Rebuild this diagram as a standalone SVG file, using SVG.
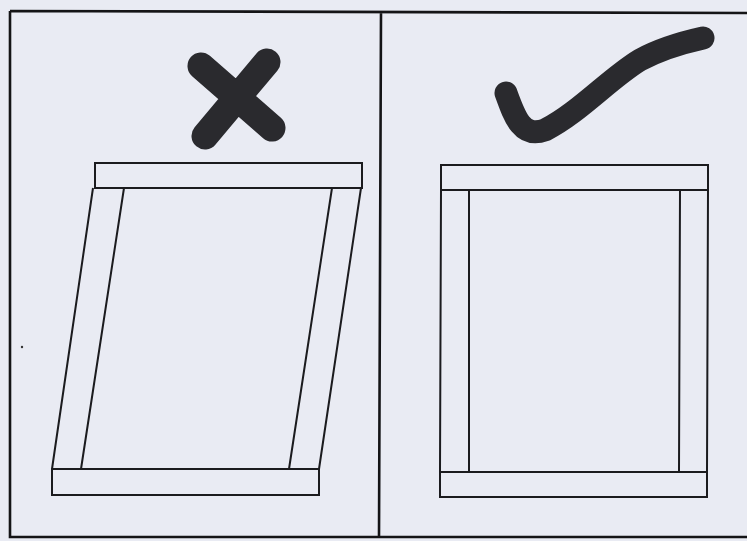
<svg xmlns="http://www.w3.org/2000/svg" width="747" height="541" viewBox="0 0 747 541">
<style>
.ln{fill:none;stroke:#1b1b1e;stroke-width:2;stroke-linejoin:miter}
.frame{fill:none;stroke:#141416;stroke-width:2.6}
.mark{fill:none;stroke:#2a2a2e;stroke-linecap:round;stroke-linejoin:round}
</style>
<rect x="0" y="0" width="747" height="541" fill="#e9ebf3"/>
<g id="frame">
<path class="frame" d="M10,11 L747,13 M10,11 L10,537 L747,537 M381,12 L379,537"/>
</g>
<g id="wrong">
<path class="mark" stroke-width="27" d="M201,66 L272,128 M267,62 L205,136"/>
<rect class="ln" x="95" y="163" width="267" height="25"/>
<path class="ln" d="M93,188 L52,469 M124,188 L81,469 M332,188 L289,469 M361,188 L319,469"/>
<rect class="ln" x="52" y="469" width="267" height="26"/>
</g>
<g id="right">
<path class="mark" stroke-width="23" d="M506,93 C515,118 522,138 545,130 C580,112 610,78 640,60 C662,48 685,42 703,38"/>
<rect class="ln" x="441" y="165" width="267" height="25"/>
<path class="ln" d="M441,190 L440,472 M469,190 L469,472 M680,190 L679,472 M708,190 L707,472"/>
<rect class="ln" x="440" y="472" width="267" height="25"/>
</g>
<circle cx="22" cy="347" r="1.2" fill="#333"/>
</svg>
